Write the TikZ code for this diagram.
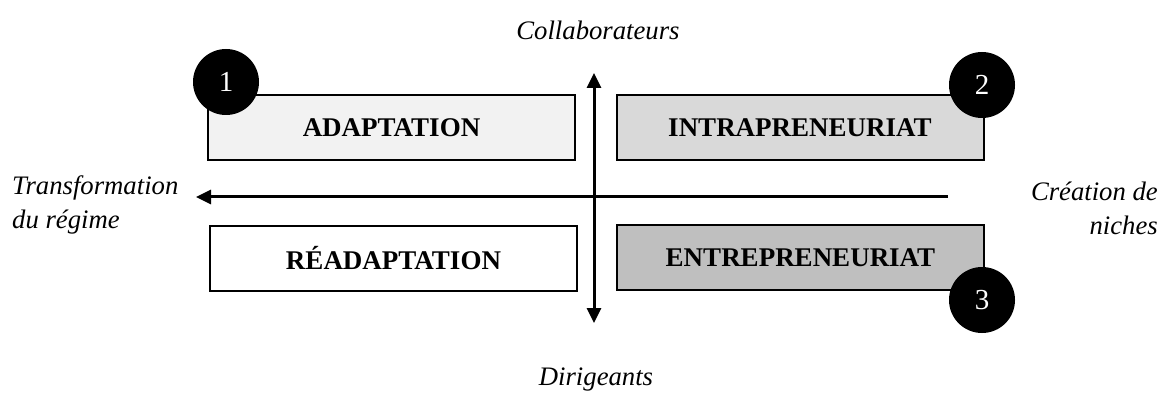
\documentclass[tikz,border=0pt]{standalone}
\usepackage{fontspec}
\setmainfont{Liberation Serif}
\usetikzlibrary{arrows.meta}
\begin{document}
\begin{tikzpicture}[x=1pt,y=-1pt,
  quad/.style={draw=black,line width=2pt,minimum width=367pt,minimum height=65pt,inner sep=0pt,
    font=\fontsize{27}{32}\selectfont\bfseries},
  num/.style={circle,fill=black,minimum size=66pt,inner sep=0pt,text=white,font=\fontsize{29}{32}\selectfont},
  lab/.style={inner sep=0pt,font=\fontsize{26.7}{34}\selectfont\itshape},
  axis/.style={line width=3pt,{Triangle[length=15pt,width=14pt]}-{Triangle[length=15pt,width=14pt]}},
  haxis/.style={line width=3pt,-{Triangle[length=15pt,width=14pt]}}]
\useasboundingbox (0,0) rectangle (1169,398);
\node[quad,fill=black!5] (ad) at (391.5,127.5) {ADAPTATION};
\node[quad,fill=black!15] (in) at (800,127.5) {INTRAPRENEURIAT};
\node[quad,fill=white] (re) at (393.5,258.5) {RÉADAPTATION};
\node[quad,fill=black!25] (en) at (800.5,257.5) {ENTREPRENEURIAT};
\node[num] (n1) at (226,82) {1};
\node[num] (n2) at (982,85) {2};
\node[num] (n3) at (982,300) {3};
\coordinate (vt) at (594,73);
\coordinate (vb) at (594,323);
\coordinate (hr) at (948,197);
\coordinate (hl) at (196,197);
\draw[axis] (vt) -- (vb);
\draw[haxis] (hr) -- (hl);
\node[lab] (col) at (598,30) {Collaborateurs};
\node[lab] (dir) at (596,380) {Dirigeants};
\node[lab,anchor=west,align=left] (tr) at (12,205) {Transformation\\du régime};
\node[lab,anchor=east,align=right] (cr) at (1158,208) {Création de\\niches};
\end{tikzpicture}
\end{document}
